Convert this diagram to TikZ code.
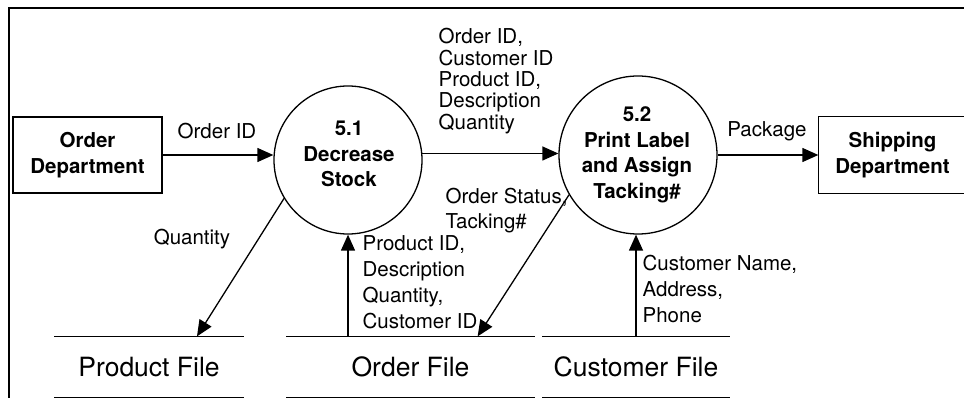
\documentclass[tikz,border=0pt]{standalone}
\usepackage{fontspec}
\setmainfont{TeX Gyre Heros}
\usetikzlibrary{arrows.meta,calc}

\begin{document}
\begin{tikzpicture}[x=1pt,y=-1pt,
  line width=1.3pt,
  flow/.style={-{Triangle[length=16pt,width=14pt]}},
  lbl/.style={inner sep=0pt, align=left, font=\fontsize{20.5}{26}\selectfont},
  ext/.style={inner sep=0pt, minimum height=76pt, align=center,
              font=\fontsize{20.5}{26}\selectfont\bfseries},
  proc/.style={circle, draw, inner sep=0pt},
  ptext/.style={inner sep=0pt, align=center, font=\fontsize{20.5}{25.5}\selectfont\bfseries},
  store/.style={inner sep=0pt, minimum height=60pt, font=\fontsize{26.5}{30}\selectfont},
]
\useasboundingbox (0,0) rectangle (964,398);

% outer frame (open at the right and bottom)
\draw[line width=1.8pt] (9,398) -- (9,8) -- (964,8);

% external entities
\node[ext, draw, minimum width=149pt] (od) at (87.5,155) {Order\\Department};
\node[ext, minimum width=147pt] (ship) at (892.5,155) {Shipping\\Department};
\draw (ship.north east) -- (ship.north west) -- (ship.south west) -- (ship.south east);

% processes
\node[proc, minimum size=148pt] (p1) at (348,160) {};
\node[ptext] (p1t) at (349,154) {5.1\\Decrease\\Stock};
\node[proc, minimum size=158pt] (p2) at (638,155) {};
\node[ptext] (p2t) at (637,155) {5.2\\Print Label\\and Assign\\Tacking\#};

% data stores
\node[store, minimum width=188pt] (pf) at (149,367) {Product File};
\node[store, minimum width=247pt] (of) at (410.5,367) {Order File};
\node[store, minimum width=186pt] (cf) at (636,367) {Customer File};
\foreach \s in {pf,of,cf}{
  \draw (\s.north west) -- (\s.north east);
  \draw (\s.south west) -- (\s.south east);
}

% data flows
\draw[flow] (od.east) -- (od.east -| p1.west);
\draw[flow] (p1.5) -- (p1.5 -| p2.west);
\draw[flow] (p2.east) -- (p2.east -| ship.west);
\draw[flow] (p1.211) -- ($(pf.north)+(48,0)$);
\draw[flow] (of.north -| p1.south) -- (p1.south);
\draw[flow] (p2.210) -- ($(of.north east)+(-57,0)$);
\draw[flow] (cf.north) -- (cf.north |- p2.south);

% flow labels
\node[lbl, anchor=base] (l1) at (217,139) {Order ID};
\node[lbl, anchor=north west, font=\fontsize{20.5}{21.3}\selectfont] (l2) at (438,28)
  {Order ID,\\Customer ID\\Product ID,\\Description\\Quantity};
\node[lbl, anchor=base] (l3) at (767,137) {Package};
\node[lbl, anchor=base] (l4) at (192,245) {Quantity};
\node[lbl, anchor=north west, font=\fontsize{20.5}{25}\selectfont] (l5) at (445,188)
  {Order Status,\\Tacking\#};
\node[lbl, anchor=north west] (l6) at (362,235)
  {Product ID,\\Description\\Quantity,\\Customer ID};
\node[lbl, anchor=north west] (l7) at (642,255)
  {Customer Name,\\Address,\\Phone};
\end{tikzpicture}
\end{document}
